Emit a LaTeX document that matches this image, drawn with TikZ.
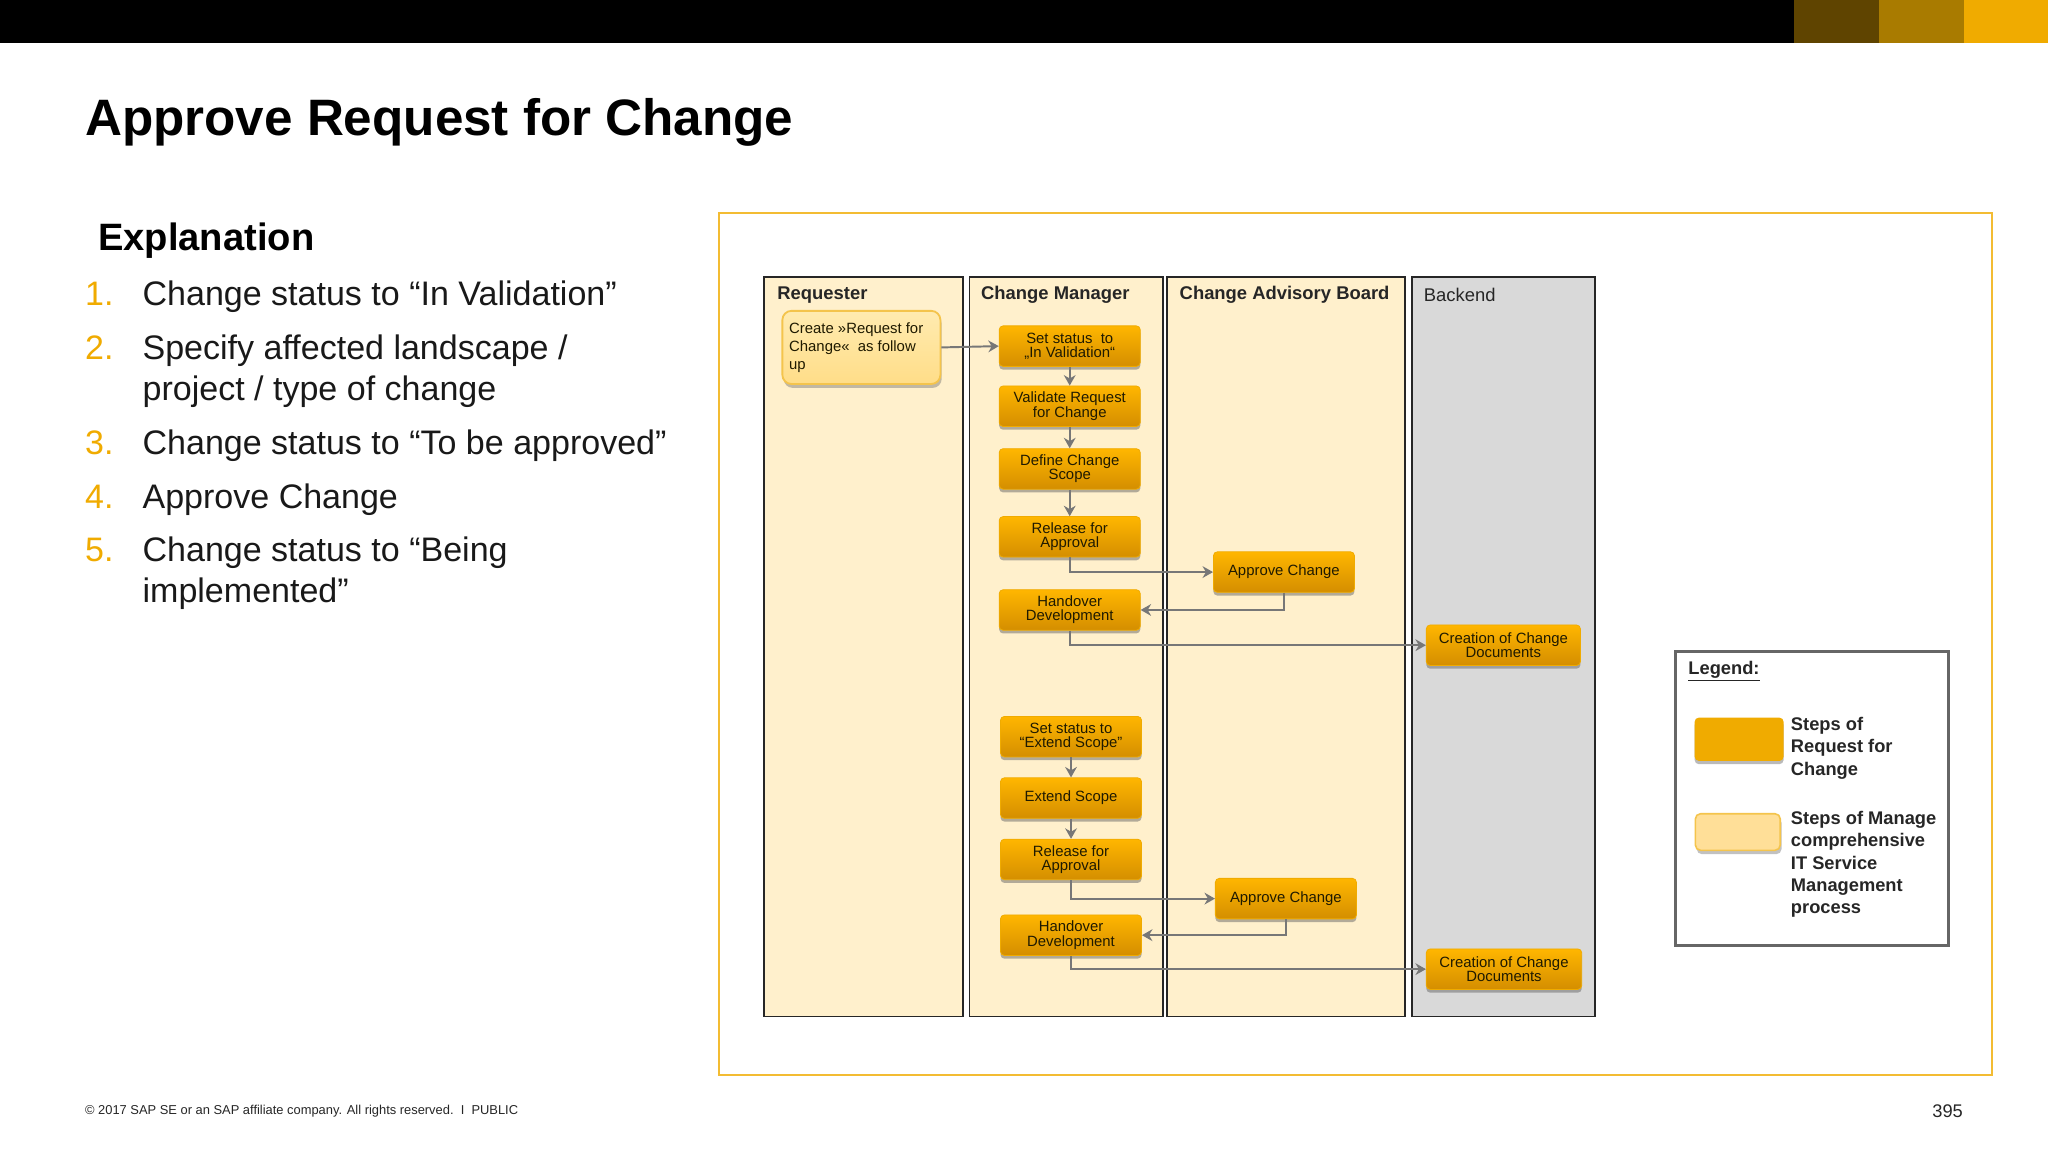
\documentclass[tikz,border=0pt]{standalone}
\usepackage{fontspec}
\setmainfont{Liberation Sans}
\usetikzlibrary{shadows,arrows.meta}
\definecolor{sapgold}{HTML}{F0AB00}
\definecolor{lanebg}{HTML}{FFF0CC}
\definecolor{backbg}{HTML}{D9D9D9}
\definecolor{linegrey}{HTML}{777777}
\definecolor{stepink}{HTML}{1F1A00}
\definecolor{bardark}{HTML}{5F4400}
\definecolor{barmid}{HTML}{A97B00}
\definecolor{steptop}{HTML}{FFB600}
\definecolor{stepbot}{HTML}{D48E00}
\definecolor{lighttop}{HTML}{FFEBB0}
\definecolor{lightbot}{HTML}{FFDD88}
\definecolor{lightsw}{HTML}{FFDF98}
\tikzset{
  x=1pt,y=-1pt,
  lanebox/.style={draw=black!85,line width=1.3pt,fill=lanebg,anchor=north west,inner sep=0pt},
  lanetitle/.style={anchor=west,inner sep=0pt,text=black!85,font=\fontsize{14.1}{17}\selectfont\bfseries},
  stepbox/.style={rounded corners=3pt,draw=sapgold,line width=.6pt,top color=steptop,bottom color=stepbot,minimum width=108pt,minimum height=31pt,inner sep=0pt,align=center,text=stepink,font=\fontsize{11.4}{11}\selectfont,drop shadow={shadow xshift=0pt,shadow yshift=-2.5pt,fill=black!60,opacity=.5}},
  flow/.style={draw=linegrey,line width=1.5pt,-{Stealth[length=8pt,width=9pt]}},
  listnum/.style={anchor=west,inner sep=0pt,text=sapgold,font=\fontsize{26}{31.5}\selectfont},
  listtxt/.style={anchor=north west,inner sep=0pt,align=left,text=black!90,font=\fontsize{26.05}{31.5}\selectfont},
  legtxt/.style={anchor=north west,inner sep=0pt,align=left,text=black!85,font=\fontsize{14}{17.1}\selectfont\bfseries},
}
\begin{document}
\begin{tikzpicture}
\useasboundingbox (0,0) rectangle (1568,882);
\fill[white] (0,0) rectangle (1568,882);
% top bar
\fill[black] (0,0) rectangle (1373.5,33);
\fill[bardark] (1373.5,0) rectangle (1438.5,33);
\fill[barmid] (1438.5,0) rectangle (1503.5,33);
\fill[sapgold] (1503.5,0) rectangle (1568,33);
% title
\node[anchor=west,inner sep=0pt,font=\fontsize{39.2}{44}\selectfont\bfseries] (title) at (65,93.5) {Approve Request for Change};
\node[anchor=west,inner sep=0pt,font=\fontsize{29.2}{34}\selectfont\bfseries] (expl) at (75,184.5) {Explanation};
% list
\node[listnum] (n1) at (65,225) {1.};
\node[listtxt] (t1) at (109,215) {Change status to “In Validation”};
\node[listnum] (n2) at (65,266) {2.};
\node[listtxt] (t2) at (109,256) {Specify affected landscape /\\project / type of change};
\node[listnum] (n3) at (65,339) {3.};
\node[listtxt] (t3) at (109,329) {Change status to “To be approved”};
\node[listnum] (n4) at (65,380) {4.};
\node[listtxt] (t4) at (109,370) {Approve Change};
\node[listnum] (n5) at (65,421) {5.};
\node[listtxt] (t5) at (109,411) {Change status to “Being\\implemented”};
% frame
\draw[sapgold!80!white,line width=1.4pt] (550.5,163) rectangle (1525,823);
% lanes
\node[lanebox,minimum width=152pt,minimum height=566pt] (req) at (584.5,211.5) {};
\node[lanebox,minimum width=148pt,minimum height=566pt] (cm) at (741.5,211.5) {};
\node[lanebox,minimum width=182pt,minimum height=566pt] (cab) at (893,211.5) {};
\node[lanebox,fill=backbg,minimum width=140pt,minimum height=566pt] (back) at (1080.5,211.5) {};
\node[lanetitle] (lt1) at (595,226) {Requester};
\node[lanetitle] (lt2) at (751,226) {Change Manager};
\node[lanetitle] (lt3) at (903,226) {Change Advisory Board};
\node[lanetitle,font=\fontsize{14.1}{17}\selectfont] (lt4) at (1090,226) {Backend};
% requester step
\node[rounded corners=7pt,draw=sapgold!70!white,line width=1.4pt,top color=lighttop,bottom color=lightbot,minimum width=121pt,minimum height=56pt,inner sep=0pt,drop shadow={shadow xshift=1pt,shadow yshift=-3pt,fill=black!60,opacity=.4}] (create) at (659.5,266) {};
\node[anchor=north west,inner sep=0pt,align=left,text=stepink,font=\fontsize{11.4}{13.6}\selectfont] (createt) at (604,247) {Create »Request for\\Change«\ \ as follow\\up};
% first block
\node[stepbox] (s1) at (819,265) {Set status\ \ to\\„In Validation“};
\node[stepbox] (s2) at (819,311) {Validate Request\\for Change};
\node[stepbox] (s3) at (819,359) {Define Change\\Scope};
\node[stepbox] (s4) at (819,411) {Release for\\Approval};
\node[stepbox] (s5) at (819,467) {Handover\\Development};
\node[stepbox] (a1) at (983,438) {Approve Change};
\node[stepbox,minimum width=118pt] (c1) at (1151,494) {Creation of Change\\Documents};
% second block
\node[stepbox] (u1) at (820,564) {Set status to\\“Extend Scope”};
\node[stepbox] (u2) at (820,611) {Extend Scope};
\node[stepbox] (u3) at (820,658) {Release for\\Approval};
\node[stepbox] (u4) at (820,716) {Handover\\Development};
\node[stepbox] (a2) at (984.5,688) {Approve Change};
\node[stepbox,minimum width=119pt] (c2) at (1151.5,742) {Creation of Change\\Documents};
% connectors
\draw[flow] (create.east) -- (s1.west);
\draw[flow] (s1) -- (s2);
\draw[flow] (s2) -- (s3);
\draw[flow] (s3) -- (s4);
\draw[flow] (s4.south) |- (a1.west);
\draw[flow] (a1.south) |- (s5.east);
\draw[flow] (s5.south) |- (c1.west);
\draw[flow] (u1) -- (u2);
\draw[flow] (u2) -- (u3);
\draw[flow] (u3.south) |- (a2.west);
\draw[flow] (a2.south) |- (u4.east);
\draw[flow] (u4.south) |- (c2.west);
% legend
\node[draw=black!60,line width=2pt,anchor=north west,minimum width=209pt,minimum height=225pt,inner sep=0pt] (leg) at (1281.8,497.8) {};
\node[anchor=west,inner sep=0pt,text=black!85,font=\fontsize{14}{17}\selectfont\bfseries] (legt) at (1292.5,513.5) {\underline{Legend:}};
\node[rounded corners=3pt,fill=sapgold,minimum width=68pt,minimum height=33pt,inner sep=0pt,drop shadow={shadow xshift=0pt,shadow yshift=-2.5pt,fill=black!60,opacity=.45}] (sw1) at (1331.5,566) {};
\node[rounded corners=4pt,draw=sapgold!70!white,line width=1.2pt,fill=lightsw,minimum width=65pt,minimum height=28pt,inner sep=0pt,drop shadow={shadow xshift=1pt,shadow yshift=-3pt,fill=black!60,opacity=.4}] (sw2) at (1330.5,637) {};
\node[legtxt] (l1) at (1371,549) {Steps of\\Request for\\Change};
\node[legtxt] (l2) at (1371,621) {Steps of Manage\\comprehensive\\IT Service\\Management\\process};
% footer
\node[anchor=west,inner sep=0pt,text=black!85,font=\fontsize{9.87}{12}\selectfont] (foot) at (65,851) {© 2017 SAP SE or an SAP affiliate company. All rights reserved.\ \ I\ \ PUBLIC};
\node[anchor=east,inner sep=0pt,text=black!85,font=\fontsize{14}{16}\selectfont] (page) at (1503,850.5) {395};
\end{tikzpicture}
\end{document}
